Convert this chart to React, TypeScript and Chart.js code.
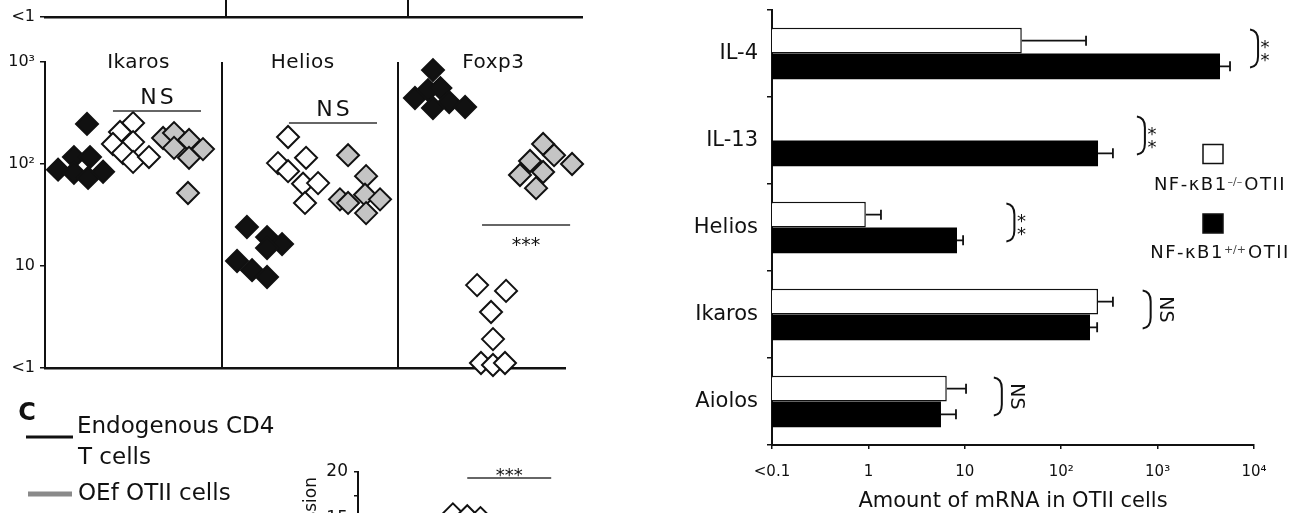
import React, { useEffect, useRef } from 'react';
import { Chart, registerables } from 'chart.js';

Chart.register(...registerables);

const FONT = '"DejaVu Sans", Verdana, sans-serif';
const INK = '#111111';
const GREY_FILL = '#c4c4c4';

// ---------- top strip (bottom edge of the panel above) ----------
const stripDividers = [1, 2];
const stripTickLabels = ['<1'];

// ---------- panel B : scatter of three genes ----------
const sectionNames = ['Ikaros', 'Helios', 'Foxp3'];
const sectionLabelX = [0.53, 1.46, 2.54];
const sectionDividers = [1, 2];
const expressionTicks = [1, 10, 100, 1000];
const expressionTickLabels = ['<1', '10', '10²', '10³'];

const ikarosBlackX = [0.238, 0.074, 0.164, 0.255, 0.164, 0.244, 0.329];
const ikarosBlackY = [247, 88, 117, 117, 82, 73, 84];
const ikarosOpenX = [0.499, 0.425, 0.385, 0.499, 0.442, 0.499, 0.589];
const ikarosOpenY = [252, 206, 157, 164, 128, 105, 117];
const ikarosGreyX = [0.669, 0.731, 0.731, 0.816, 0.816, 0.895, 0.81];
const ikarosGreyY = [180, 201, 144, 172, 115, 140, 52];

const heliosBlackX = [1.144, 1.258, 1.343, 1.258, 1.088, 1.173, 1.258];
const heliosBlackY = [24.1, 19.2, 16.4, 15.0, 11.2, 9.1, 7.8];
const heliosOpenX = [1.377, 1.32, 1.377, 1.479, 1.462, 1.547, 1.473];
const heliosOpenY = [184, 102, 85, 115, 64, 65, 41.5];
const heliosGreyX = [1.717, 1.819, 1.671, 1.717, 1.813, 1.898, 1.819];
const heliosGreyY = [122, 76, 45, 41.5, 50, 45, 33];

const foxp3BlackX = [2.198, 2.096, 2.17, 2.24, 2.198, 2.29, 2.38];
const foxp3BlackY = [833, 444, 531, 555, 354, 405, 362];
const foxp3OpenX = [2.448, 2.612, 2.527, 2.538, 2.47, 2.538, 2.606];
const foxp3OpenY = [6.5, 5.7, 3.54, 1.92, 1.12, 1.07, 1.12];
const foxp3GreyX = [2.822, 2.884, 2.986, 2.748, 2.822, 2.691, 2.782];
const foxp3GreyY = [157, 122, 100, 107, 83.5, 78, 58];

const sigFromX = [0.385, 1.382, 2.476];
const sigToX = [0.884, 1.881, 2.975];
const sigAtY = [331, 252, 25.2];
const sigMarks = ['NS', 'NS', '***'];

// ---------- panel C (top part only) ----------
const cLegendTexts = ['Endogenous CD4', 'T cells', 'OEf OTII cells'];
const cAxisTitle = 'Relative expression';
const cMajorStep = 5;
const cMinorStep = 2.5;
const cOpenX = [1.65, 1.9, 2.13];
const cOpenY = [15.6, 15.4, 15.2];
const cSigFromX = 1.9;
const cSigToX = 3.36;
const cSigY = 19.36;
const cSigMark = '***';

// ---------- right panel : horizontal bars ----------
const barCategories = ['IL-4', 'IL-13', 'Helios', 'Ikaros', 'Aiolos'];
const knockoutMeans = [39, null, 0.94, 241, 6.5];
const knockoutErrTo = [181, null, 1.35, 344, 10.3];
const wildtypeMeans = [4440, 241, 8.3, 199, 5.66];
const wildtypeErrTo = [5640, 344, 9.6, 236, 8.1];
const barSigLabels = ['**', '**', '**', 'NS', 'NS'];
const barSigAtX = [9100, 610, 27, 700, 20];
const amountTicks = [0.1, 1, 10, 100, 1000, 10000];
const amountTickLabels = ['<0.1', '1', '10', '10²', '10³', '10⁴'];
const amountTitle = 'Amount of mRNA in OTII cells';
const genotypePrefix = 'NF-κB1';
const genotypeSup = ['–/–', '+/+'];
const genotypeSuffix = 'OTII';

const toPoints = (xs: number[], ys: number[]) => xs.map((x, i) => ({ x, y: ys[i] }));

const diamonds = (data: any[], fill: string, radius = 11) => ({
  data,
  pointStyle: 'rectRot',
  pointRadius: radius,
  pointHoverRadius: radius,
  backgroundColor: fill,
  borderColor: INK,
  borderWidth: 2,
  clip: false,
});

const common = {
  animation: false,
  responsive: false,
  devicePixelRatio: 1,
  events: [] as any[],
};

function setSpacing(ctx: any, v: string) {
  if ('letterSpacing' in ctx) ctx.letterSpacing = v;
}

function makeStrip(): any {
  return {
    type: 'scatter',
    data: { datasets: [{ data: [] }] },
    options: {
      ...common,
      layout: { padding: { left: 0, top: 0, right: 18, bottom: 23 } },
      plugins: { legend: { display: false }, tooltip: { enabled: false } },
      scales: {
        x: {
          type: 'linear', min: 0, max: 2.96,
          afterBuildTicks: (s: any) => { s.ticks = stripDividers.map((v) => ({ value: v })); },
          ticks: { display: false },
          grid: { color: INK, lineWidth: 2, drawTicks: false },
          border: { color: INK, width: 2.5 },
          afterFit: (s: any) => { s.height = 0; },
        },
        y: {
          type: 'logarithmic', min: 1, max: 10,
          afterBuildTicks: (s: any) => { s.ticks = [{ value: 1 }]; },
          ticks: { callback: (_v: any, i: number) => stripTickLabels[i], font: { family: FONT, size: 16 }, color: INK, padding: 5 },
          grid: { drawOnChartArea: false, tickLength: 5, color: INK, lineWidth: 1.5 },
          border: { display: false },
          afterFit: (s: any) => { s.width = 45; s.paddingTop = 0; s.paddingBottom = 0; },
        },
      },
    },
  };
}

function makeScatter(): any {
  const overlay = {
    id: 'scatterOverlay',
    afterDraw(chart: any) {
      const { ctx, scales: { x, y }, chartArea } = chart;
      ctx.save();
      ctx.fillStyle = INK;
      ctx.textAlign = 'center';
      ctx.textBaseline = 'middle';
      ctx.font = `20px ${FONT}`;
      setSpacing(ctx, '0.5px');
      sectionNames.forEach((n, i) => ctx.fillText(n, x.getPixelForValue(sectionLabelX[i]), chartArea.top + 1));
      sigMarks.forEach((m, i) => {
        const x0 = x.getPixelForValue(sigFromX[i]);
        const x1 = x.getPixelForValue(sigToX[i]);
        const yy = y.getPixelForValue(sigAtY[i]);
        ctx.strokeStyle = '#333';
        ctx.lineWidth = 1.5;
        ctx.beginPath();
        ctx.moveTo(x0, yy);
        ctx.lineTo(x1, yy);
        ctx.stroke();
        if (m === 'NS') {
          ctx.font = `22px ${FONT}`;
          setSpacing(ctx, '3px');
          ctx.fillText(m, (x0 + x1) / 2 + 1.5, yy - 13);
        } else {
          ctx.font = `19px ${FONT}`;
          setSpacing(ctx, '0px');
          ctx.fillText(m, (x0 + x1) / 2, yy + 21);
        }
      });
      ctx.restore();
    },
  };
  return {
    type: 'scatter',
    data: {
      datasets: [
        diamonds(toPoints([...ikarosBlackX, ...heliosBlackX, ...foxp3BlackX], [...ikarosBlackY, ...heliosBlackY, ...foxp3BlackY]), INK),
        diamonds(toPoints([...ikarosOpenX, ...heliosOpenX, ...foxp3OpenX], [...ikarosOpenY, ...heliosOpenY, ...foxp3OpenY]), '#ffffff'),
        diamonds(toPoints([...ikarosGreyX, ...heliosGreyX, ...foxp3GreyX], [...ikarosGreyY, ...heliosGreyY, ...foxp3GreyY]), GREY_FILL),
      ],
    },
    options: {
      ...common,
      layout: { padding: { left: 0, top: 22, right: 35, bottom: 17 } },
      plugins: { legend: { display: false }, tooltip: { enabled: false } },
      scales: {
        x: {
          type: 'linear', min: 0, max: 2.946,
          afterBuildTicks: (s: any) => { s.ticks = sectionDividers.map((v) => ({ value: v })); },
          ticks: { display: false },
          grid: { color: INK, lineWidth: 2, drawTicks: false },
          border: { color: INK, width: 2.5 },
          afterFit: (s: any) => { s.height = 0; },
        },
        y: {
          type: 'logarithmic', min: 1, max: 1000,
          afterBuildTicks: (s: any) => { s.ticks = expressionTicks.map((v) => ({ value: v })); },
          ticks: { callback: (_v: any, i: number) => expressionTickLabels[i], font: { family: FONT, size: 16 }, color: INK, padding: 5, autoSkip: false },
          grid: { drawOnChartArea: false, tickLength: 5, color: INK, lineWidth: 1.5 },
          border: { color: INK, width: 2 },
          afterFit: (s: any) => { s.width = 45; s.paddingTop = 0; s.paddingBottom = 0; },
        },
      },
    },
    plugins: [overlay],
  };
}

function makePanelC(): any {
  const TOP = 395;
  const overlay = {
    id: 'panelCOverlay',
    afterDraw(chart: any) {
      const { ctx, scales: { x, y } } = chart;
      ctx.save();
      ctx.fillStyle = INK;
      ctx.textBaseline = 'middle';
      // panel letter
      ctx.font = `bold 24px ${FONT}`;
      ctx.textAlign = 'center';
      ctx.fillText('C', 27, 414 - TOP);
      // legend lines
      ctx.lineCap = 'butt';
      ctx.strokeStyle = INK;
      ctx.lineWidth = 3;
      ctx.beginPath(); ctx.moveTo(26, 437 - TOP); ctx.lineTo(73, 437 - TOP); ctx.stroke();
      ctx.strokeStyle = '#8a8a8a';
      ctx.lineWidth = 5;
      ctx.beginPath(); ctx.moveTo(28, 494 - TOP); ctx.lineTo(72, 494 - TOP); ctx.stroke();
      // legend texts
      ctx.textAlign = 'left';
      ctx.font = `23px ${FONT}`;
      ctx.fillText(cLegendTexts[0], 77, 427 - TOP);
      ctx.fillText(cLegendTexts[1], 78, 458 - TOP);
      ctx.fillText(cLegendTexts[2], 78, 494 - TOP);
      // axis title (rotated)
      ctx.save();
      ctx.translate(312, 477 - TOP);
      ctx.rotate(-Math.PI / 2);
      ctx.textAlign = 'right';
      ctx.font = `17px ${FONT}`;
      ctx.fillText(cAxisTitle, 0, 0);
      ctx.restore();
      // significance line
      const x0 = x.getPixelForValue(cSigFromX);
      const x1 = x.getPixelForValue(cSigToX);
      const yy = y.getPixelForValue(cSigY);
      ctx.strokeStyle = '#333';
      ctx.lineWidth = 1.5;
      ctx.beginPath(); ctx.moveTo(x0, yy); ctx.lineTo(x1, yy); ctx.stroke();
      ctx.textAlign = 'center';
      ctx.font = `18px ${FONT}`;
      ctx.fillText(cSigMark, (x0 + x1) / 2, yy - 1.5);
      ctx.restore();
    },
  };
  return {
    type: 'scatter',
    data: { datasets: [diamonds(toPoints(cOpenX, cOpenY), '#ffffff', 10)] },
    options: {
      ...common,
      layout: { padding: { left: 0, top: 77, right: 0, bottom: 35 } },
      plugins: { legend: { display: false }, tooltip: { enabled: false } },
      scales: {
        x: { type: 'linear', min: 0, max: 4, display: false },
        y: {
          type: 'linear', min: 0, max: 20,
          ticks: {
            stepSize: cMinorStep,
            callback: (v: any) => (Number(v) % cMajorStep === 0 ? String(v) : ''),
            font: { family: FONT, size: 17 }, color: INK, padding: 6,
          },
          grid: { drawOnChartArea: false, tickLength: 4, color: INK, lineWidth: 1.5 },
          border: { color: INK, width: 2 },
          afterFit: (s: any) => { s.width = 358; s.paddingTop = 0; s.paddingBottom = 0; },
        },
      },
    },
    plugins: [overlay],
  };
}

function makeBars(): any {
  const overlay = {
    id: 'barOverlay',
    afterDraw(chart: any) {
      const { ctx, scales: { x, y } } = chart;
      ctx.save();
      // error bars
      [knockoutErrTo, wildtypeErrTo].forEach((errs, di) => {
        const meta = chart.getDatasetMeta(di);
        meta.data.forEach((bar: any, i: number) => {
          const e = errs[i];
          if (e == null) return;
          const x0 = bar.x;
          const x1 = x.getPixelForValue(e);
          const yc = bar.y;
          ctx.strokeStyle = INK;
          ctx.lineWidth = 1.8;
          ctx.beginPath();
          ctx.moveTo(x0, yc); ctx.lineTo(x1, yc);
          ctx.moveTo(x1, yc - 5); ctx.lineTo(x1, yc + 5);
          ctx.stroke();
        });
      });
      // significance brackets
      barSigLabels.forEach((lab, i) => {
        const cy = y.getPixelForValue(i) - 5;
        const xb = x.getPixelForValue(barSigAtX[i]);
        const top = cy - 19;
        const bot = cy + 19;
        ctx.strokeStyle = INK;
        ctx.lineWidth = 2;
        ctx.beginPath();
        ctx.moveTo(xb, top);
        ctx.quadraticCurveTo(xb + 8, top + 1, xb + 8, top + 11);
        ctx.lineTo(xb + 8, bot - 11);
        ctx.quadraticCurveTo(xb + 8, bot - 1, xb, bot);
        ctx.stroke();
        ctx.fillStyle = INK;
        ctx.textAlign = 'center';
        ctx.textBaseline = 'middle';
        if (lab === '**') {
          ctx.font = `18px ${FONT}`;
          ctx.fillText('*', xb + 15, cy);
          ctx.fillText('*', xb + 15, cy + 13);
        } else {
          ctx.save();
          ctx.translate(xb + 22, cy);
          ctx.rotate(Math.PI / 2);
          ctx.font = `19px ${FONT}`;
          ctx.fillText(lab, 0, 0);
          ctx.restore();
        }
      });
      // legend
      const fills = ['#ffffff', '#000000'];
      const squareY = [154, 223.5];
      const textY = [185, 253];
      genotypeSup.forEach((sup, i) => {
        ctx.fillStyle = fills[i];
        ctx.fillRect(513, squareY[i] - 9.5, 20, 19);
        ctx.strokeStyle = INK;
        ctx.lineWidth = 1.5;
        ctx.strokeRect(513, squareY[i] - 9.5, 20, 19);
        ctx.fillStyle = INK;
        ctx.textAlign = 'left';
        ctx.textBaseline = 'middle';
        setSpacing(ctx, '1.5px');
        ctx.font = `18px ${FONT}`;
        const w1 = ctx.measureText(genotypePrefix).width;
        const w3 = ctx.measureText(genotypeSuffix).width;
        ctx.font = `11px ${FONT}`;
        setSpacing(ctx, '0px');
        const w2 = ctx.measureText(sup).width + 2;
        const start = 530 - (w1 + w2 + w3) / 2;
        ctx.font = `18px ${FONT}`;
        setSpacing(ctx, '1.5px');
        ctx.fillText(genotypePrefix, start, textY[i]);
        ctx.fillText(genotypeSuffix, start + w1 + w2, textY[i]);
        ctx.font = `11px ${FONT}`;
        setSpacing(ctx, '0px');
        ctx.fillStyle = '#444';
        ctx.fillText(sup, start + w1, textY[i] - 3);
      });
      ctx.restore();
    },
  };
  return {
    type: 'bar',
    data: {
      labels: barCategories,
      datasets: [
        { label: genotypePrefix + genotypeSup[0] + genotypeSuffix, data: knockoutMeans, backgroundColor: '#ffffff', borderColor: INK, borderWidth: 1.5, borderSkipped: 'start' },
        { label: genotypePrefix + genotypeSup[1] + genotypeSuffix, data: wildtypeMeans, backgroundColor: '#000000', borderColor: '#000000', borderWidth: 0 },
      ],
    },
    options: {
      ...common,
      indexAxis: 'y',
      datasets: { bar: { categoryPercentage: 0.59, barPercentage: 1 } },
      layout: { padding: { left: 0, top: 10, right: 43, bottom: 0 } },
      plugins: { legend: { display: false }, tooltip: { enabled: false } },
      scales: {
        x: {
          type: 'logarithmic', min: 0.1, max: 10000,
          afterBuildTicks: (s: any) => { s.ticks = amountTicks.map((v) => ({ value: v })); },
          ticks: { callback: (_v: any, i: number) => amountTickLabels[i], font: { family: FONT, size: 15 }, color: INK, padding: 14, autoSkip: false, maxRotation: 0 },
          grid: { drawOnChartArea: false, tickLength: 4, color: INK, lineWidth: 1.5 },
          border: { color: INK, width: 2 },
          title: { display: true, text: amountTitle, font: { family: FONT, size: 21, lineHeight: 1.1 }, color: INK, padding: { top: 0, bottom: 0 } },
          afterFit: (s: any) => { s.height = 68; s.paddingLeft = 0; s.paddingRight = 0; },
        },
        y: {
          type: 'category',
          ticks: { font: { family: FONT, size: 21 }, color: INK, padding: 9 },
          grid: { drawOnChartArea: false, tickLength: 5, color: INK, lineWidth: 1.5, offset: true },
          border: { color: INK, width: 2 },
          afterFit: (s: any) => { s.width = 82; s.paddingTop = 0; s.paddingBottom = 0; },
        },
      },
    },
    plugins: [overlay],
  };
}

function ChartCanvas(props: { left: number; top: number; width: number; height: number; make: () => any }) {
  const { left, top, width, height, make } = props;
  const ref = useRef<HTMLCanvasElement>(null);
  useEffect(() => {
    if (!ref.current) return;
    const chart = new Chart(ref.current, make());
    return () => chart.destroy();
  }, []);
  return (
    <canvas
      ref={ref}
      width={width}
      height={height}
      style={{ position: 'absolute', left, top, width, height, display: 'block' }}
    />
  );
}

export default function App() {
  return (
    <div style={{ position: 'absolute', left: 0, top: 0, width: 1297, height: 513, overflow: 'hidden', background: '#ffffff' }}>
      <ChartCanvas left={0} top={0} width={600} height={40} make={makeStrip} />
      <ChartCanvas left={0} top={40} width={600} height={345} make={makeScatter} />
      <ChartCanvas left={0} top={395} width={600} height={300} make={makePanelC} />
      <ChartCanvas left={690} top={0} width={607} height={513} make={makeBars} />
    </div>
  );
}
